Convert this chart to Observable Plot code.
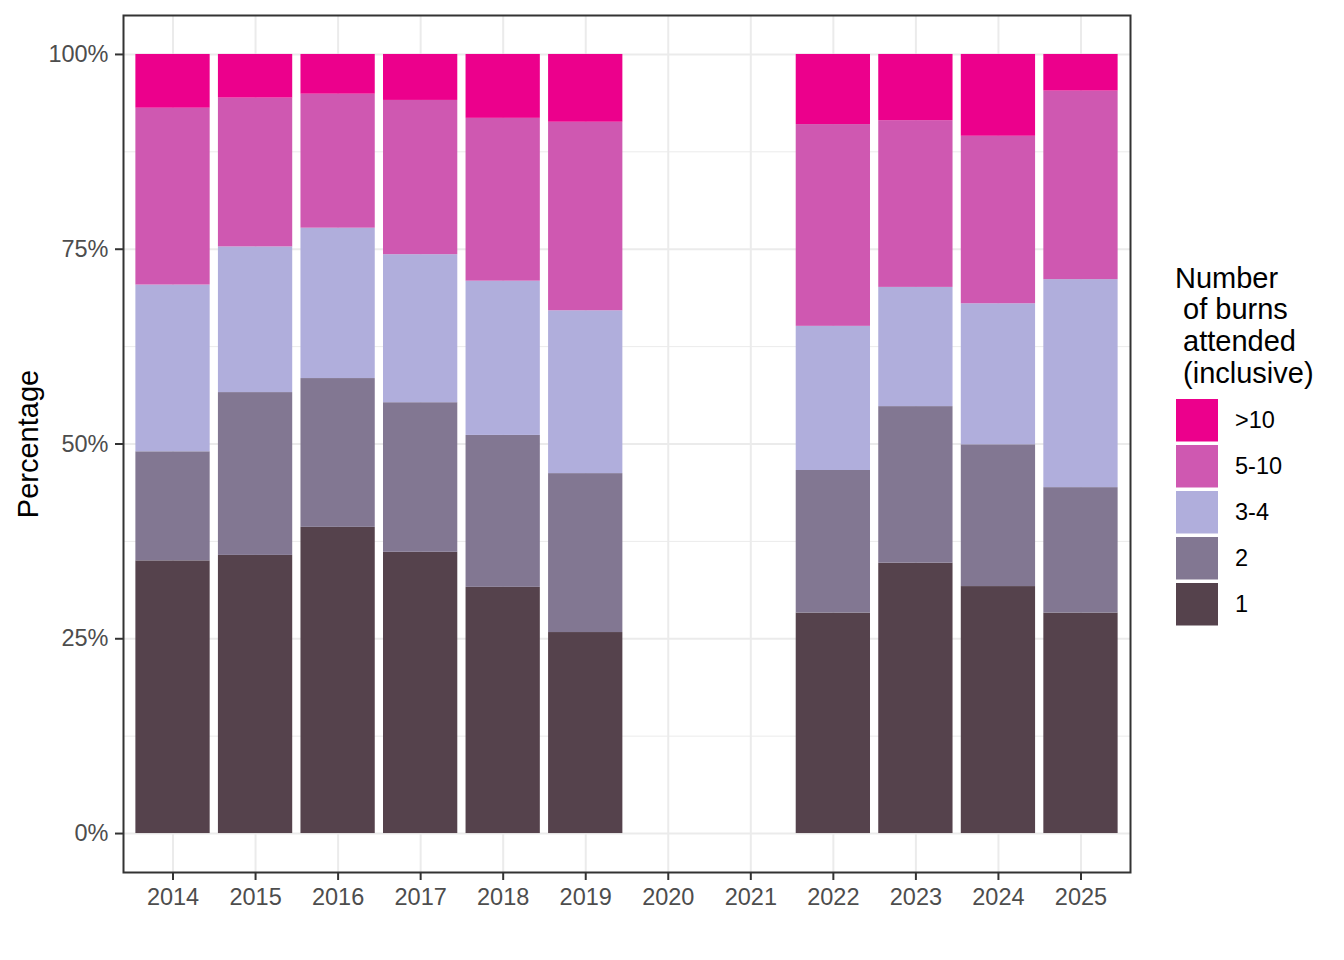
<!DOCTYPE html>
<html><head><meta charset="utf-8">
<script src="https://cdn.jsdelivr.net/npm/d3@7"></script>
<script src="https://cdn.jsdelivr.net/npm/@observablehq/plot@0.6"></script>
<style>body{margin:0;background:#fff;}</style>
</head><body><div id="chart"></div>
<script>
// All x-axis categories (2020 and 2021 have no data)
const years = ["2014","2015","2016","2017","2018","2019","2020","2021","2022","2023","2024","2025"];
// Years that have bars
const dataYears = ["2014","2015","2016","2017","2018","2019","2022","2023","2024","2025"];
// Stack order, bottom to top
const categories = ["1","2","3-4","5-10",">10"];
const colors = ["#55424C","#827792","#B0AEDC","#CF58B1","#EC008C"];
// Percentages per category, aligned with dataYears
const pct1   = [35.0, 35.7, 39.3, 36.1, 31.6, 25.8, 28.3, 34.7, 31.7, 28.3];
const pct2   = [14.0, 20.9, 19.1, 19.2, 19.5, 20.4, 18.3, 20.1, 18.2, 16.1];
const pct34  = [21.4, 18.7, 19.3, 19.0, 19.8, 20.9, 18.5, 15.3, 18.1, 26.7];
const pct510 = [22.7, 19.1, 17.2, 19.8, 20.9, 24.2, 25.9, 21.4, 21.5, 24.2];
const pctGt10= [ 6.9,  5.6,  5.1,  5.9,  8.2,  8.7,  9.0,  8.5, 10.5,  4.7];
const yMajor = [0, 25, 50, 75, 100];
const yMinor = [12.5, 37.5, 62.5, 87.5];
const yLabel = "Percentage";
const legendTitle = ["Number", " of burns", " attended", " (inclusive)"];

const series = [pct1, pct2, pct34, pct510, pctGt10];
const rows = [];
dataYears.forEach((yr, i) => categories.forEach((c, j) => rows.push({year: yr, cat: c, pct: series[j][i]})));

const font = "'Liberation Sans', Arial, sans-serif";
const plot = Plot.plot({
  width: 1344, height: 960,
  marginLeft: 123, marginRight: 214, marginTop: 15, marginBottom: 88,
  style: {fontFamily: font, background: "#fff"},
  x: {type: "band", domain: years, paddingInner: 0.1, paddingOuter: 0.15, round: false, label: null},
  y: {domain: [-5, 105], label: null},
  color: {domain: categories, range: colors},
  marks: [
    Plot.gridY({ticks: yMinor, stroke: "#EBEBEB", strokeOpacity: 1, strokeWidth: 1}),
    Plot.gridY({ticks: yMajor, stroke: "#EBEBEB", strokeOpacity: 1, strokeWidth: 2}),
    Plot.gridX({stroke: "#EBEBEB", strokeOpacity: 1, strokeWidth: 2}),
    Plot.barY(rows, {x: "year", y: "pct", fill: "cat", order: categories}),
    Plot.frame({stroke: "#333333", strokeWidth: 2}),
    Plot.axisX({tickSize: 8, tickPadding: 8, fontSize: 23.5, fill: "#4D4D4D", stroke: "#333333", strokeWidth: 2, label: null}),
    Plot.axisY({ticks: yMajor, tickFormat: d => d + "%", tickSize: 8, tickPadding: 7, fontSize: 23.5, fill: "#4D4D4D", stroke: "#333333", strokeWidth: 2, label: null}),
    Plot.text([yLabel], {text: d => d, frameAnchor: "left", textAnchor: "middle", dx: -95, rotate: -90, fontSize: 29, fill: "#000"})
  ]
});
document.getElementById("chart").appendChild(plot);

// Legend drawn into the same SVG
const colorScale = plot.scale("color");
const svg = d3.select(plot);
const lg = svg.append("g").attr("font-family", font).attr("text-anchor", "start");
legendTitle.forEach((t, i) => {
  lg.append("text").attr("x", 1175).attr("y", 287.5 + i * 31.7)
    .attr("font-size", 29).attr("fill", "#000").style("white-space", "pre").text(t);
});
categories.slice().reverse().forEach((c, i) => {
  const y0 = 399 + i * 46;
  lg.append("rect").attr("x", 1176).attr("y", y0).attr("width", 42).attr("height", 42.5)
    .attr("fill", colorScale.apply(c));
  lg.append("text").attr("x", 1235).attr("y", y0 + 21.25).attr("dy", "0.35em")
    .attr("font-size", 23.5).attr("fill", "#000").text(c);
});
</script>
</body></html>
